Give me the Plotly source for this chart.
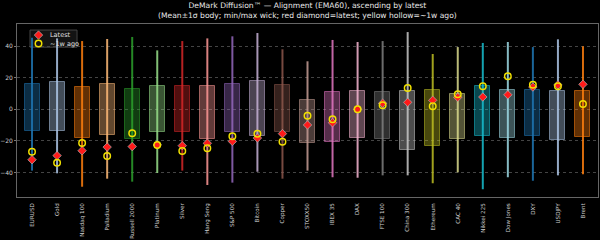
import plotly.graph_objects as go

assets = ["EURUSD", "Gold", "Nasdaq 100", "Palladium", "Russell 2000", "Platinum", "Silver",
          "Hang Seng", "S&P 500", "Bitcoin", "Copper", "STOXX50", "IBEX 35", "DAX", "FTSE 100",
          "China 300", "Ethereum", "CAC 40", "Nikkei 225", "Dow Jones", "DXY", "USDJPY", "Brent"]
body_hi = [15.8, 17.1, 13.9, 15.8, 13.0, 14.7, 14.6, 14.6, 15.8, 18.1, 15.2, 5.7, 10.8, 11.6, 10.9,
           11.4, 12.4, 9.7, 14.9, 12.0, 12.2, 11.6, 11.4]
body_lo = [-13.9, -13.9, -18.0, -16.0, -19.0, -14.4, -14.4, -18.6, -14.2, -17.1, -14.4, -21.3, -20.7,
           -18.0, -18.8, -25.6, -23.4, -19.0, -16.9, -18.0, -16.9, -19.6, -17.3]
wick_max = [45.3, 44.9, 43.2, 44.5, 45.8, 37.3, 43.2, 44.9, 46.2, 48.3, 38.0, 30.4, 43.9, 42.6, 43.2,
            48.9, 35.0, 39.4, 42.0, 42.6, 39.4, 44.3, 39.9]
wick_min = [-38.8, -40.5, -49.0, -43.9, -45.8, -40.3, -38.8, -47.9, -46.4, -39.5, -43.9, -38.8, -43.0,
            -43.3, -41.8, -41.8, -46.8, -39.9, -50.6, -43.0, -45.2, -41.8, -41.1]
latest = [-31.9, -29.3, -26.2, -23.9, -23.6, -22.6, -23.0, -21.5, -20.3, -18.2, -15.4, -9.9, -8.5,
          0.0, 3.8, 4.4, 5.7, 7.6, 7.8, 9.2, 14.1, 15.4, 15.8]
week_ago = [-26.8, -33.8, -21.3, -29.6, -15.2, -22.6, -26.4, -24.7, -17.1, -15.4, -20.5, -4.0, -6.3,
            0.0, 2.5, 13.5, 1.9, 9.5, 14.6, 20.9, 15.6, 14.6, 3.4]
y_ticks = [-40, -20, 0, 20, 40]
legend_labels = ["Latest", "~1w ago"]

tab20 = ["#1f77b4", "#aec7e8", "#ff7f0e", "#ffbb78", "#2ca02c", "#98df8a", "#d62728", "#ff9896",
         "#9467bd", "#c5b0d5", "#8c564b", "#c49c94", "#e377c2", "#f7b6d2", "#7f7f7f", "#c7c7c7",
         "#bcbd22", "#dbdb8d", "#17becf", "#9edae5"]
colors = [tab20[i % 20] for i in range(len(assets))]

RED = "#ff1a1a"
YEL = "#f0e000"


def rgba(h, a):
    h = h.lstrip("#")
    return f"rgba({int(h[0:2],16)},{int(h[2:4],16)},{int(h[4:6],16)},{a})"


fig = go.Figure()

# bodies (mean ± 1σ)
fig.add_trace(go.Bar(
    x=assets, y=[h - l for h, l in zip(body_hi, body_lo)], base=body_lo, width=0.6,
    marker=dict(color=[rgba(c, 0.38) for c in colors],
                line=dict(color=[rgba(c, 0.55) for c in colors], width=1)),
    showlegend=False, hoverinfo="skip"))

# wicks (min/max)
for a, c, lo, hi in zip(assets, colors, wick_min, wick_max):
    fig.add_trace(go.Scatter(x=[a, a], y=[lo, hi], mode="lines",
                             line=dict(color=rgba(c, 0.85), width=2),
                             showlegend=False, hoverinfo="skip"))

fig.add_trace(go.Scatter(x=assets, y=latest, mode="markers", name=legend_labels[0],
                         showlegend=False,
                         marker=dict(symbol="diamond", size=6.5, color=RED,
                                     line=dict(color="#b0b0b0", width=0.7))))
fig.add_trace(go.Scatter(x=assets, y=week_ago, mode="markers", name=legend_labels[1],
                         showlegend=False,
                         marker=dict(symbol="circle-open", size=6.5, color=YEL,
                                     line=dict(width=1.5))))

# compact legend (matplotlib style) on an overlay axis spanning the plot area [0,1]x[0,1]
fig.add_shape(type="rect", xref="paper", yref="paper", x0=0.0224, x1=0.1033, y0=0.866, y1=0.965,
              fillcolor="rgba(22,22,22,0.85)", line=dict(color="#444", width=1), layer="between")
fig.add_trace(go.Scatter(x=[0.037, 0.037], y=[0.936, 0.887], mode="markers", xaxis="x2", yaxis="y2",
                         showlegend=False, hoverinfo="skip",
                         marker=dict(symbol=["diamond", "circle-open"], size=6.5, color=[RED, YEL],
                                     line=dict(color=["#b0b0b0", YEL], width=[0.7, 1.5]))))
for lbl, yy in zip(legend_labels, [0.936, 0.887]):
    fig.add_annotation(x=0.054, y=yy, xref="paper", yref="paper", text=lbl, showarrow=False,
                       xanchor="left", yanchor="middle", font=dict(size=6.5, color="#e0e0e0"))

fig.add_annotation(x=0.5, y=1.0, xref="paper", yref="paper", yanchor="bottom", yshift=2,
                   showarrow=False,
                   text="DeMark Diffusion™ — Alignment (EMA60), ascending by latest<br>"
                        "(Mean±1σ body; min/max wick; red diamond=latest; yellow hollow=~1w ago)",
                   font=dict(size=7.6, color="#e8e8e8"))

fig.update_layout(
    width=600, height=240,
    margin=dict(l=17, r=2, t=24, b=43, autoexpand=False),
    paper_bgcolor="black", plot_bgcolor="black",
    font=dict(family="DejaVu Sans", color="#d8d8d8", size=7),
    showlegend=False,
    bargap=0,
    xaxis2=dict(overlaying="x", range=[0, 1], visible=False, fixedrange=True),
    yaxis2=dict(overlaying="y", range=[0, 1], visible=False, fixedrange=True),
)
fig.layout.xaxis.update(type="category", range=[-0.6, len(assets) - 0.4], tickangle=-90,
                        showgrid=False, showline=True, linecolor="#666", mirror=True,
                        ticks="", ticklabelstandoff=3, automargin=False,
                        tickfont=dict(size=5.6, color="#cfcfcf"))
fig.layout.yaxis.update(range=[-55.5, 54], tickvals=y_ticks, showgrid=True, gridcolor="#444",
                        griddash="dot", gridwidth=1, zeroline=False, showline=True, linecolor="#666",
                        mirror=True, ticks="outside", ticklen=2, tickcolor="#777", automargin=False,
                        tickfont=dict(size=6, color="#cfcfcf"))

fig.write_html("out.html")
